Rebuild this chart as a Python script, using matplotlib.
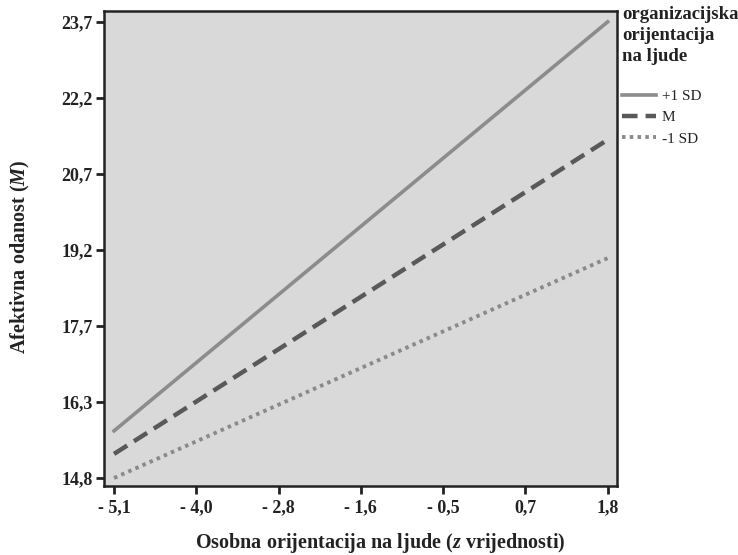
import matplotlib.pyplot as plt
import numpy as np

plt.rcParams['font.family'] = 'Liberation Serif'
plt.rcParams['mathtext.fontset'] = 'custom'
plt.rcParams['mathtext.it'] = 'Liberation Serif:italic:bold'
plt.rcParams['mathtext.rm'] = 'Liberation Serif:bold'

# predictor range (z values) and predicted means for each moderator level
x_ends = [-5.1, 1.8]
plus_sd = [15.72, 23.7]
mean_m = [15.27, 21.4]
minus_sd = [14.8, 19.09]

x_tick_labels = ['- 5,1', '- 4,0', '- 2,8', '- 1,6', '- 0,5', '0,7', '1,8']
y_tick_labels = ['14,8', '16,3', '17,7', '19,2', '20,7', '22,2', '23,7']

fig = plt.figure(figsize=(7.38, 5.55), dpi=100)
ax = fig.add_axes([0.141, 0.124, 0.695, 0.856])
ax.set_facecolor('#d9d9d9')

ax.plot(x_ends, plus_sd, color='#8c8c8c', linewidth=2.6, label='+1 SD')
ax.plot(x_ends, mean_m, color='#595959', linewidth=3.2, linestyle=(0, (3.5, 1.8)), label='M')
ax.plot(x_ends, minus_sd, color='#8a8a8a', linewidth=2.8, linestyle=(0, (0.9, 1.1)), label='-1 SD')

ax.set_xlim(-5.24, 1.93)
ax.set_ylim(14.64, 23.91)
ax.set_xticks(np.linspace(x_ends[0], x_ends[1], 7))
ax.set_xticklabels(x_tick_labels)
ax.set_yticks(np.linspace(14.8, 23.7, 7))
ax.set_yticklabels(y_tick_labels)

for s in ax.spines.values():
    s.set_linewidth(1.8)
    s.set_color('#222222')
ax.tick_params(direction='out', length=6, width=2, color='#222222', labelsize=13)
ax.tick_params(axis='y', pad=2)
for lab in ax.get_xticklabels() + ax.get_yticklabels():
    lab.set_fontweight('bold')
    lab.set_color('#222222')

ax.set_xlabel('Osobna orijentacija na ljude ($\\mathit{z}$ vrijednosti)', fontsize=14.5,
              fontweight='bold', color='#222222')
ax.set_ylabel('Afektivna odanost ($\\mathit{M}$)', fontsize=14.5, fontweight='bold',
              color='#222222')
ax.xaxis.set_label_coords(0.538, -0.095)
ax.yaxis.set_label_coords(-0.141, 0.482)

# legend title drawn separately so the gap to the entries matches
fig.text(0.843, 0.99, 'organizacijska\norijentacija\nna ljude', ha='left', va='top',
         fontsize=13.5, fontweight='bold', linespacing=1.32, color='#222222')
leg = fig.legend(loc='upper left', bbox_to_anchor=(0.843, 0.839), frameon=False,
                 fontsize=11, handlelength=2.2, handletextpad=0.4, labelspacing=0.5,
                 borderpad=0, borderaxespad=0)
for t in leg.get_texts():
    t.set_color('#222222')

fig.savefig('out.png', dpi=100)
